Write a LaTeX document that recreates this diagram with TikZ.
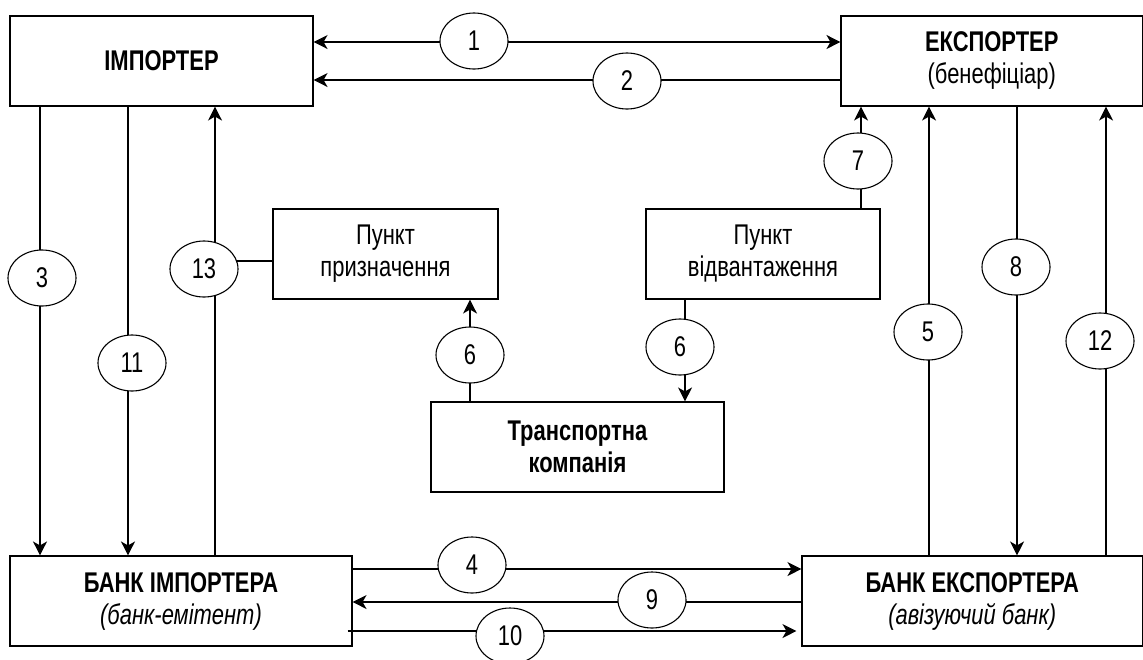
\documentclass[tikz,border=0pt]{standalone}
\usepackage{fontspec}
\setmainfont{Liberation Sans}[FakeStretch=0.77]
\usetikzlibrary{arrows.meta,shapes.geometric}
\begin{document}
\begin{tikzpicture}[x=1pt,y=-1pt,line width=1.1pt,
  txt/.style={font=\fontsize{28.5}{32}\selectfont},
  box/.style={draw,rectangle,inner sep=0pt,align=center,txt,minimum height=90pt},
  num/.style={draw,ellipse,fill=white,inner sep=0pt,minimum width=68pt,minimum height=56pt,txt},
  arr/.style={-{Stealth[length=14pt,width=14pt,inset=4pt]}},
  arrb/.style={{Stealth[length=14pt,width=14pt,inset=4pt]}-{Stealth[length=14pt,width=14pt,inset=4pt]}}]
\clip (0,0) rectangle (1143,659);
\fill[white] (0,0) rectangle (1143,659);
% boxes
\node[box,minimum width=303pt] (imp) at (161.5,61) {\textbf{ІМПОРТЕР}};
\node[box,minimum width=301.5pt] (exp) at (991.75,61) {\textbf{ЕКСПОРТЕР}\\(бенефіціар)};
\node[box,minimum width=342pt] (bimp) at (181,601) {\textbf{БАНК ІМПОРТЕРА}\\\textit{(банк-емітент)}};
\node[box,minimum width=340.5pt] (bexp) at (972.25,601) {\textbf{БАНК ЕКСПОРТЕРА}\\\textit{(авізуючий банк)}};
\node[box,minimum width=225pt] (pp) at (385.5,254) {Пункт\\призначення};
\node[box,minimum width=234pt] (pv) at (763,254) {Пункт\\відвантаження};
\node[box,minimum width=293pt] (tr) at (577.5,447) {\textbf{Транспортна}\\\textbf{компанія}};
% connectors
\draw[arrb] (imp.east |- 0,42) -- (exp.west |- 0,42);
\draw[arr] (exp.west |- 0,80) -- (imp.east |- 0,80);
\draw[arr] (imp.south -| 40,0) -- (bimp.north -| 40,0);
\draw[arr] (imp.south -| 128,0) -- (bimp.north -| 128,0);
\draw[arr] (bimp.north -| 215,0) -- (imp.south -| 215,0);
\draw (pp.west |- 0,261) -- (215,261);
\draw[arr] (tr.north -| 470,0) -- (pp.south -| 470,0);
\draw[arr] (pv.south -| 685,0) -- (tr.north -| 685,0);
\draw[arr] (pv.north -| 861,0) -- (exp.south -| 861,0);
\draw[arr] (bexp.north -| 929,0) -- (exp.south -| 929,0);
\draw[arr] (exp.south -| 1017,0) -- (bexp.north -| 1017,0);
\draw[arr] (bexp.north -| 1106,0) -- (exp.south -| 1106,0);
\draw[arr] (bimp.east |- 0,569) -- (bexp.west |- 0,569);
\draw[arr] (bexp.west |- 0,602) -- (bimp.east |- 0,602);
\draw[arr] ([xshift=-5pt]bimp.east |- 0,631) -- ([xshift=-5pt]bexp.west |- 0,631);
% labels
\node[num] (e1) at (474,41) {1};
\node[num] (e2) at (627,81) {2};
\node[num] (e3) at (42,278) {3};
\node[num] (e11) at (132,363) {11};
\node[num] (e13) at (204,269) {13};
\node[num] (e6a) at (470,355) {6};
\node[num] (e6b) at (680,347) {6};
\node[num] (e7) at (858,161) {7};
\node[num] (e5) at (928,332) {5};
\node[num] (e8) at (1016,267) {8};
\node[num] (e12) at (1100,341) {12};
\node[num] (e4) at (472,565) {4};
\node[num] (e9) at (652,600) {9};
\node[num] (e10) at (510,636) {10};
\end{tikzpicture}
\end{document}
